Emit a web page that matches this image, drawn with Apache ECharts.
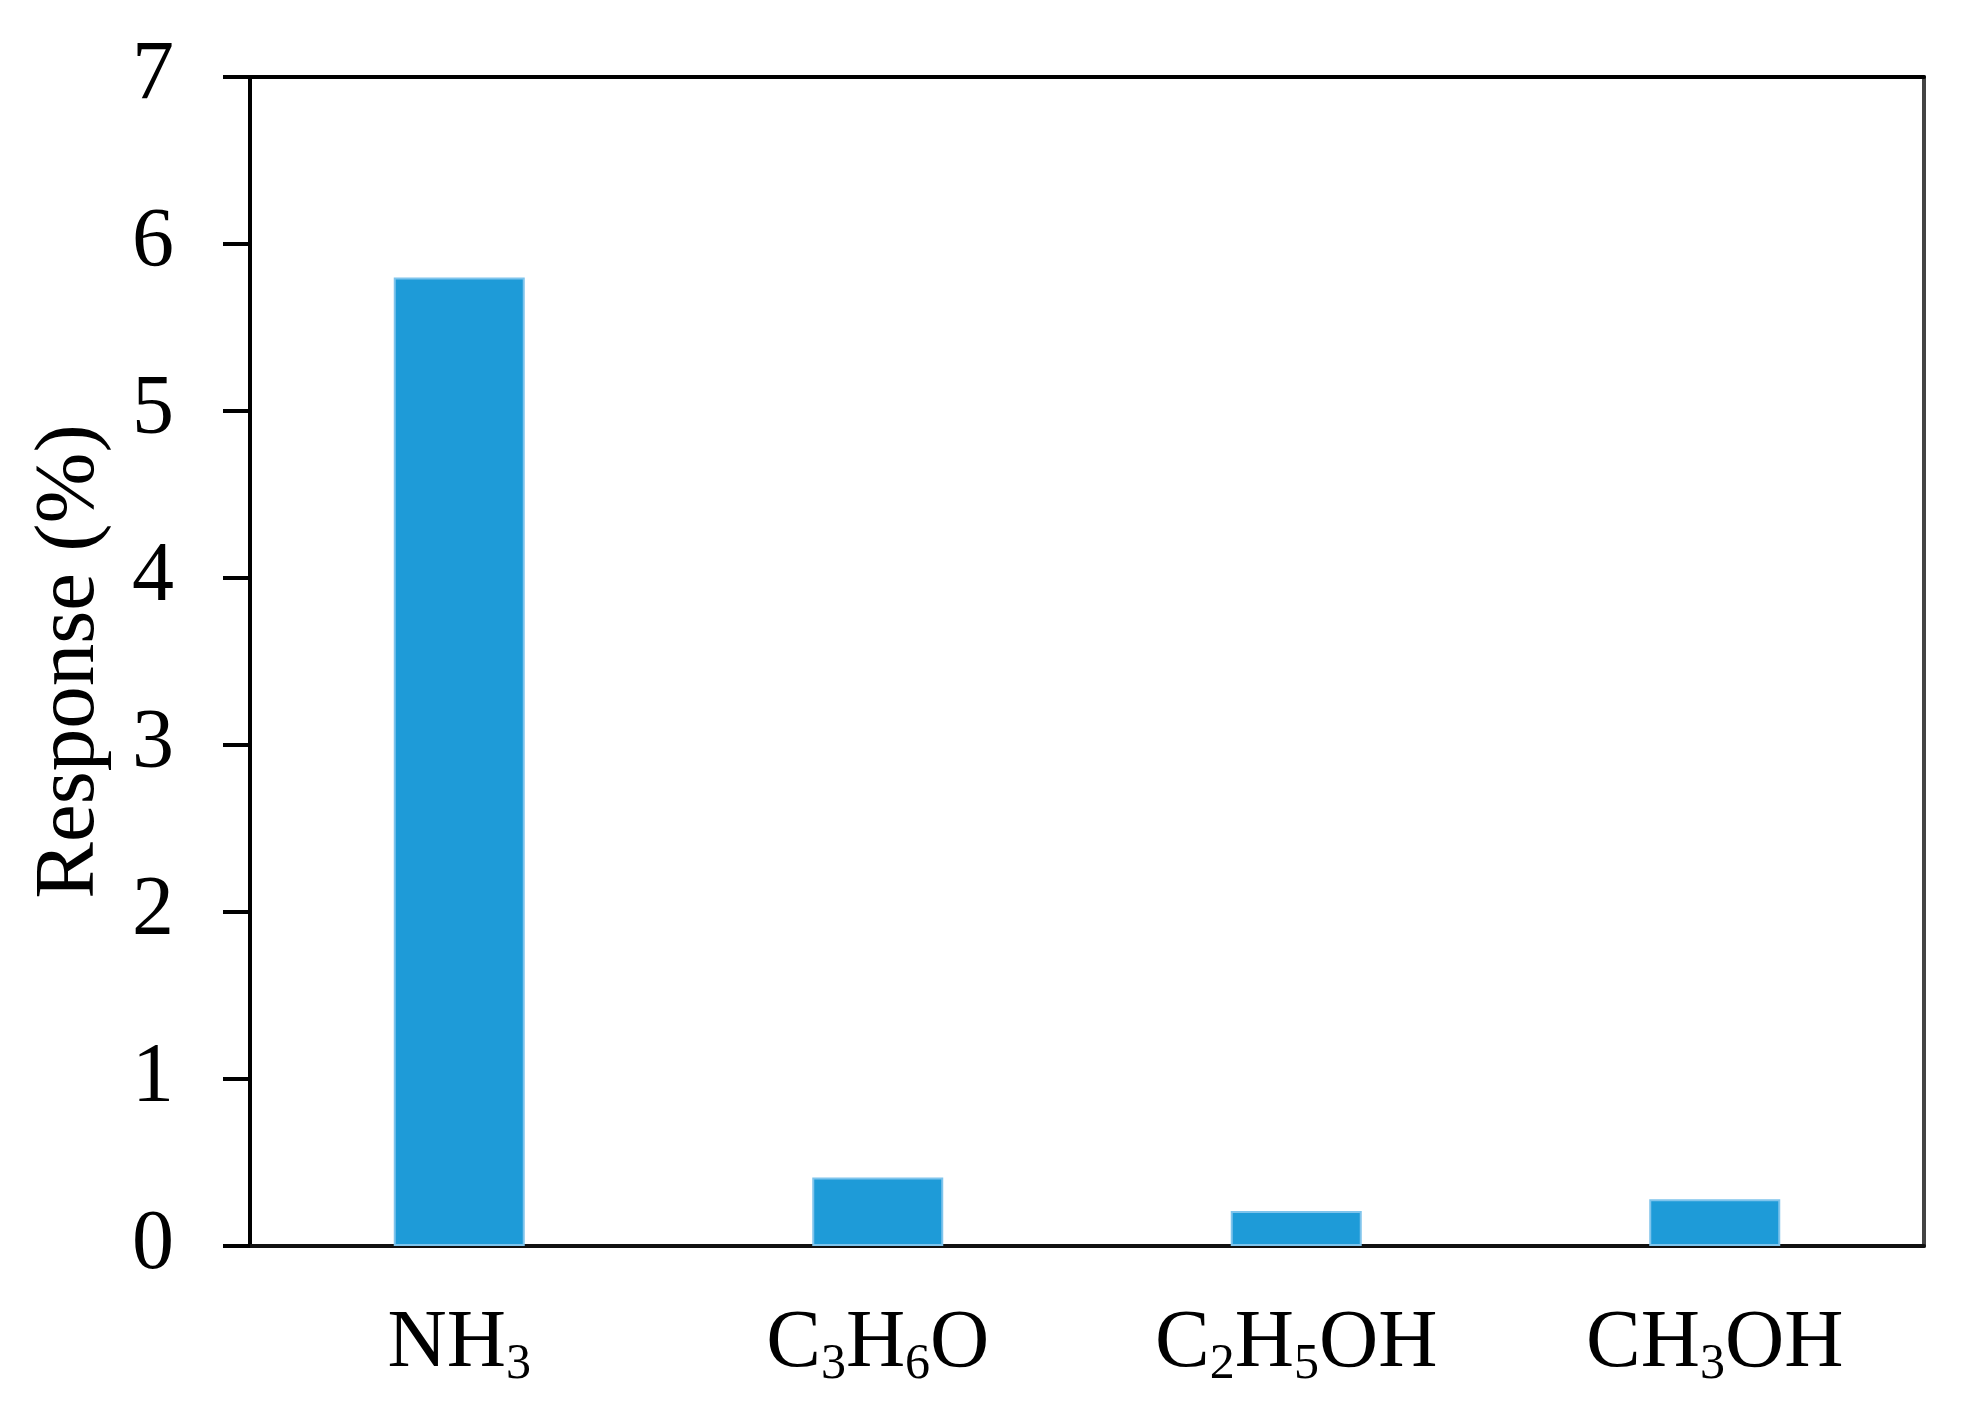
<!DOCTYPE html>
<html>
<head>
<meta charset="utf-8">
<script src="https://cdn.jsdelivr.net/npm/echarts@6/dist/echarts.min.js"></script>
<style>
  html, body { margin: 0; padding: 0; background: #fff; }
  #chart { width: 1966px; height: 1412px; }
</style>
</head>
<body>
<div id="chart"></div>
<script>
  // gases tested
  const gases = ['NH3', 'C3H6O', 'C2H5OH', 'CH3OH'];
  // same names as rich text, digits as subscripts
  const gasLabels = [
    '{b|NH}{s|3}',
    '{b|C}{s|3}{b|H}{s|6}{b|O}',
    '{b|C}{s|2}{b|H}{s|5}{b|OH}',
    '{b|CH}{s|3}{b|OH}'
  ];
  // response (%)
  const responses = [5.8, 0.41, 0.21, 0.28];
  const yTicks = [0, 1, 2, 3, 4, 5, 6, 7];

  const serif = 'Liberation Serif';

  const myChart = echarts.init(document.getElementById('chart'));
  const option = {
    backgroundColor: '#fff',
    animation: false,
    grid: {
      left: 250,
      right: 42,
      top: 77,
      bottom: 166,
      containLabel: false
    },
    xAxis: [
      {
        type: 'category',
        data: gases,
        axisTick: {show: false},
        axisLine: {show: true, onZero: false, lineStyle: {color: '#111', width: 4}},
        axisLabel: {
          margin: 48,
          formatter: (v, i) => gasLabels[i],
          rich: {
            b: {fontFamily: serif, fontSize: 82, color: '#000', lineHeight: 100},
            s: {fontFamily: serif, fontSize: 50, color: '#000', lineHeight: 100, padding: [42, 0, 0, 0]}
          }
        }
      },
      {
        // top frame line
        type: 'category',
        position: 'top',
        data: gases,
        axisTick: {show: false},
        axisLabel: {show: false},
        axisLine: {show: true, onZero: false, lineStyle: {color: '#000', width: 4}}
      }
    ],
    yAxis: [
      {
        type: 'value',
        min: yTicks[0],
        max: yTicks[yTicks.length - 1],
        interval: 1,
        name: 'Response (%)',
        nameLocation: 'middle',
        nameGap: 137,
        nameTextStyle: {fontFamily: serif, fontSize: 85, color: '#000'},
        splitLine: {show: false},
        axisLine: {show: true, onZero: false, lineStyle: {color: '#000', width: 4}},
        axisTick: {show: true, length: 27, lineStyle: {color: '#000', width: 4}},
        axisLabel: {fontFamily: serif, fontSize: 84, color: '#000', margin: 76}
      },
      {
        // right frame line
        type: 'value',
        position: 'right',
        min: yTicks[0],
        max: yTicks[yTicks.length - 1],
        interval: 1,
        splitLine: {show: false},
        axisTick: {show: false},
        axisLabel: {show: false},
        axisLine: {show: true, onZero: false, lineStyle: {color: '#444', width: 4}}
      }
    ],
    series: [
      {
        name: 'Response',
        type: 'bar',
        barWidth: 131,
        itemStyle: {
          color: '#1e9bd8',
          borderColor: '#7fc4ec',
          borderWidth: 2
        },
        data: responses
      }
    ]
  };
  myChart.setOption(option, true);
</script>
</body>
</html>
